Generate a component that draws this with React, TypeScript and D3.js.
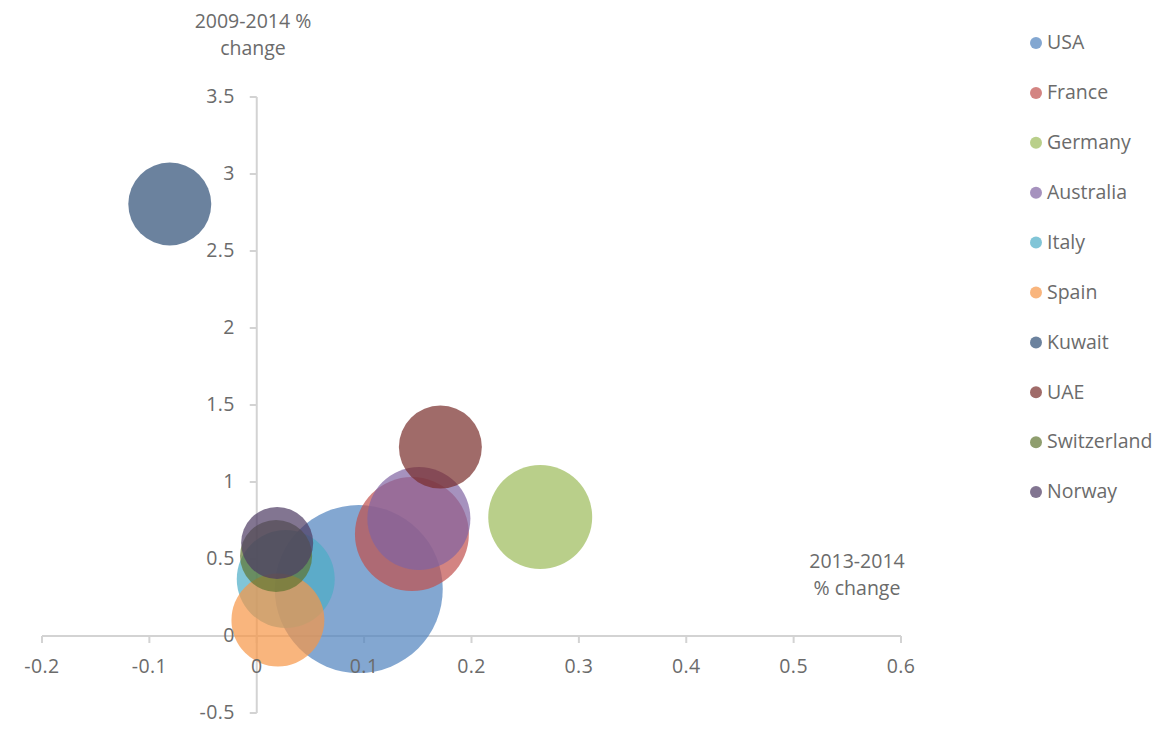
import React from "react";
import * as d3 from "d3";

const countries = ["USA", "France", "Germany", "Australia", "Italy", "Spain", "Kuwait", "UAE", "Switzerland", "Norway"];
const change2013_2014 = [0.095, 0.1445, 0.264, 0.151, 0.027, 0.0197, -0.081, 0.171, 0.018, 0.019];
const change2009_2014 = [0.305, 0.662, 0.773, 0.763, 0.37, 0.104, 2.805, 1.227, 0.52, 0.604];
const bubbleSize = [100, 46, 38.3, 37.6, 34, 30.6, 24.4, 24.4, 18.4, 18.4];
const colors = ["#4F81BD", "#C0504D", "#9BBB59", "#8064A2", "#4BACC6", "#F79646", "#2C4D75", "#772C2A", "#5F7530", "#4D3B62"];
const xTicks = [-0.2, -0.1, 0, 0.1, 0.2, 0.3, 0.4, 0.5, 0.6];
const yTicks = [-0.5, 0, 0.5, 1, 1.5, 2, 2.5, 3, 3.5];

const W = 1157;
const H = 729;
const FONT = "'Open Sans', sans-serif";
const TEXT = "#6b6b6b";
const AXIS = "#d3d3d3";
const FS = 19.5;

export default function App() {
  const x = d3.scaleLinear().domain([-0.2, 0.6]).range([42, 901]);
  const y = d3.scaleLinear().domain([-0.5, 3.5]).range([713, 97]);
  const r = d3.scaleSqrt().domain([0, 100]).range([0, 84]);
  const x0 = x(0);
  const y0 = y(0);
  const fmt = (v: number) => (v === 0 ? "0" : String(v));

  return (
    <svg width={W} height={H} style={{ position: "absolute", left: 0, top: 0 }}>
      <rect width={W} height={H} fill="#fff" />
      <line x1={x(-0.2)} x2={x(0.6)} y1={y0} y2={y0} stroke={AXIS} strokeWidth={2} />
      <line x1={x0} x2={x0} y1={y(3.5)} y2={y(-0.5)} stroke={AXIS} strokeWidth={2} />
      {xTicks.map((t) => (
        <line key={"xt" + t} x1={x(t)} x2={x(t)} y1={y0} y2={y0 + 7} stroke={AXIS} strokeWidth={2} />
      ))}
      {yTicks.map((t) => (
        <line key={"yt" + t} x1={x0 - 7} x2={x0} y1={y(t)} y2={y(t)} stroke={AXIS} strokeWidth={2} />
      ))}
      {countries.map((c, i) => (
        <circle
          key={c}
          cx={x(change2013_2014[i])}
          cy={y(change2009_2014[i])}
          r={r(bubbleSize[i])}
          fill={colors[i]}
          fillOpacity={0.7}
        />
      ))}
      {xTicks.map((t) => (
        <text
          key={"xl" + t}
          x={x(t)}
          y={y0 + 32}
          textAnchor="middle"
          fontFamily={FONT}
          fontSize={FS}
          letterSpacing={0.4}
          fill={TEXT}
          dominantBaseline="middle"
        >
          {fmt(t)}
        </text>
      ))}
      {yTicks.map((t) => (
        <text
          key={"yl" + t}
          x={x0 - 22}
          y={y(t) + 1}
          textAnchor="end"
          fontFamily={FONT}
          fontSize={FS}
          letterSpacing={0.4}
          fill={TEXT}
          dominantBaseline="middle"
        >
          {fmt(t)}
        </text>
      ))}
      <text x={253} y={28} textAnchor="middle" fontFamily={FONT} fontSize={FS} fill={TEXT}>
        2009-2014 %
      </text>
      <text x={253} y={55} textAnchor="middle" fontFamily={FONT} fontSize={FS} fill={TEXT}>
        change
      </text>
      <text x={857} y={568} textAnchor="middle" fontFamily={FONT} fontSize={FS} fill={TEXT}>
        2013-2014
      </text>
      <text x={857} y={595} textAnchor="middle" fontFamily={FONT} fontSize={FS} fill={TEXT}>
        % change
      </text>
      {countries.map((c, i) => (
        <g key={"lg" + c} transform={`translate(1036, ${43 + i * 49.9})`}>
          <circle r={6} fill={colors[i]} fillOpacity={0.7} />
          <text x={11} y={1} fontFamily={FONT} fontSize={FS} fill={TEXT} dominantBaseline="middle">
            {c}
          </text>
        </g>
      ))}
    </svg>
  );
}
